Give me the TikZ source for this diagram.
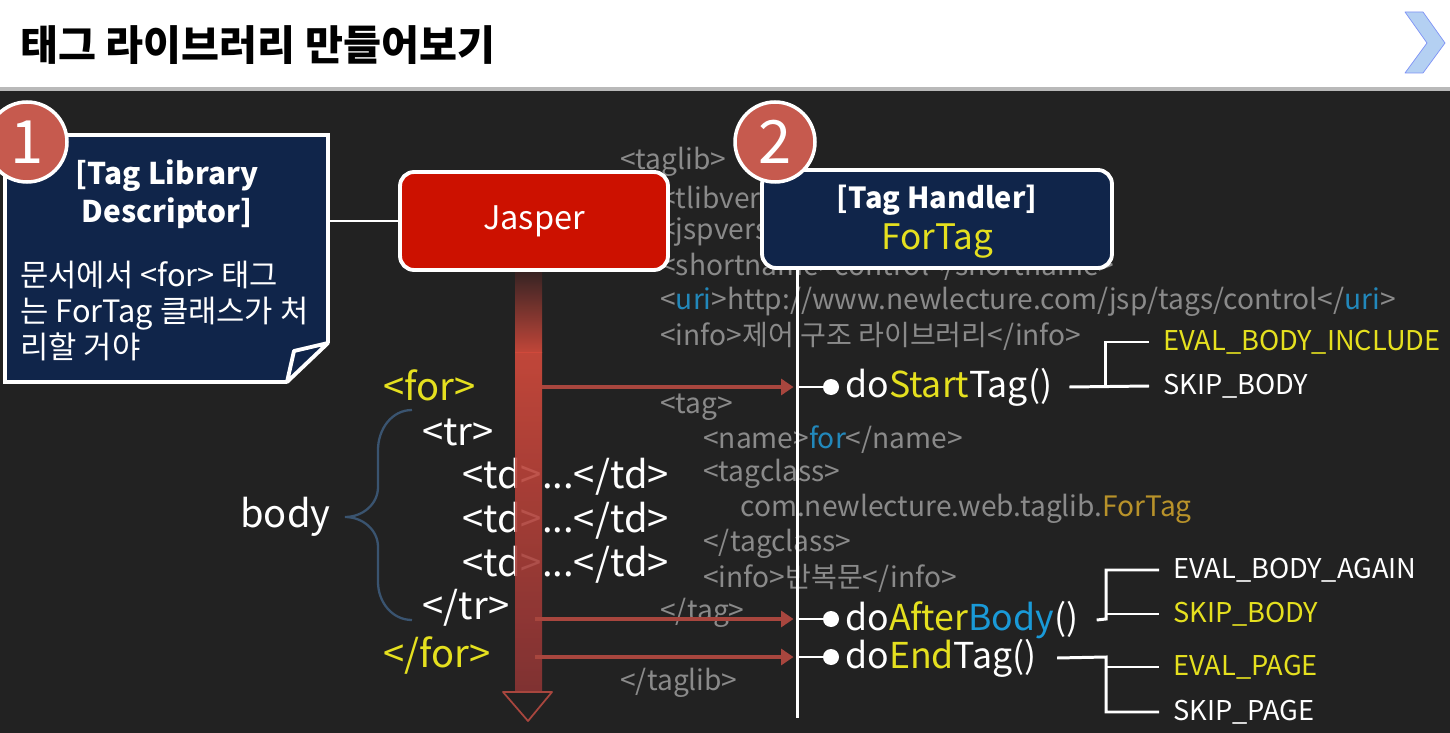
\documentclass[tikz,border=0pt]{standalone}
\usepackage{fontspec}
\setmainfont{Noto Sans CJK KR}
\usepackage{tikz}
\usepackage{xcolor}
\usetikzlibrary{arrows.meta, positioning, calc}
\definecolor{SlideDark}{HTML}{222222}
\definecolor{NoteNavy}{HTML}{10254A}
\definecolor{JasperRed}{HTML}{CC1100}
\definecolor{BadgeRed}{HTML}{C65A4E}
\definecolor{CodeYellow}{HTML}{E5E01F}
\definecolor{CodeBlue}{HTML}{1A9AD8}
\definecolor{TldGray}{HTML}{8A8A8A}
\definecolor{TldBlue}{HTML}{2288BB}
\definecolor{TldGold}{HTML}{B8922A}
\definecolor{CallRed}{HTML}{A8463E}
\definecolor{ShaftDark}{HTML}{3A2424}
\definecolor{ShaftRed}{HTML}{D24A3C}
\definecolor{ShaftLow}{HTML}{8A3434}
\definecolor{BraceBlue}{HTML}{3A5470}
\definecolor{ChevronBlue}{HTML}{B4D0F2}

\begin{document}
\begin{tikzpicture}[x=0.02cm, y=-0.02cm,
    code/.style={anchor=west, inner sep=0pt, text=white, font=\fontsize{21.7}{24}\selectfont},
    tldline/.style={anchor=west, inner sep=0pt, text=TldGray, font=\fontsize{16}{19}\selectfont},
    method/.style={anchor=west, inner sep=0pt, text=white, font=\fontsize{20.3}{24}\selectfont},
    result/.style={anchor=west, inner sep=0pt, font=\fontsize{15.5}{19}\selectfont},
    badge/.style={circle, fill=BadgeRed, draw=white, line width=2pt, text=white, minimum size=1.6cm, inner sep=0pt, font=\fontsize{34}{36}\selectfont},
    hook/.style={circle, fill=white, inner sep=0pt, minimum size=0.32cm},
    branch/.style={white, line width=1.7pt},
    callarrow/.style={CallRed, line width=2.3pt, -{Triangle[length=7pt, width=9pt]}},
  ]
  \useasboundingbox (0,0) rectangle (1450,733);

  % Slide background
  \fill[white] (0,0) rectangle (1450,90);
  \fill[gray!55] (0,87) rectangle (1450,91);
  \fill[SlideDark] (0,91) rectangle (1450,733);
  \node[anchor=west, inner sep=0pt, font=\bfseries\fontsize{23.5}{26}\selectfont] (title) at (20,45) {태그 라이브러리 만들어보기};
  \draw[fill=ChevronBlue, draw=ChevronBlue!70!blue, line join=round] (1405,12) -- (1423,12) -- (1445,43) -- (1423,73) -- (1405,73) -- (1427,43) -- cycle;

  % TLD source (behind the boxes)
  \node[tldline] (taglibOpen) at (620,162) {<taglib>};
  \node[tldline] (tlib) at (660,197) {<tlibversion>};
  \node[tldline] (jspver) at (660,232) {<jspversion>};
  \node[tldline] (short) at (660,267) {<shortname>control</shortname>};
  \node[tldline] (uri) at (660,302) {<\textcolor{TldBlue}{uri}>http://www.newlecture.com/jsp/tags/control</\textcolor{TldBlue}{uri}>};
  \node[tldline] (info) at (660,336) {<info>제어 구조 라이브러리</info>};
  \node[tldline] (tagOpen) at (660,407) {<tag>};
  \node[tldline] (name) at (703,440) {<name>\textcolor{TldBlue}{for}</name>};
  \node[tldline] (tagclass) at (703,474) {<tagclass>};
  \node[tldline] (className) at (740,509) {com.newlecture.web.taglib.\textcolor{TldGold}{ForTag}};
  \node[tldline] (tagclassEnd) at (703,544) {</tagclass>};
  \node[tldline] (infoLoop) at (703,578) {<info>반복문</info>};
  \node[tldline] (tagClose) at (660,613) {</tag>};
  \node[tldline] (taglibClose) at (620,683) {</taglib>};

  % JSP document
  \node[code, text=CodeYellow] (forOpen) at (383,385) {<for>};
  \node[code] (trOpen) at (422,432) {<tr>};
  \node[code] (tdA) at (462,477) {<td>...</td>};
  \node[code] (tdB) at (462,521) {<td>...</td>};
  \node[code] (tdC) at (462,565) {<td>...</td>};
  \node[code] (trClose) at (422,608) {</tr>};
  \node[code, text=CodeYellow] (forClose) at (383,655) {</for>};
  \node[code] (body) at (240,517) {body};
  \draw[BraceBlue, line width=1.3pt] (412,410) to[out=180, in=90] (378,450) -- (378,487)
    to[out=-90, in=0] (345,517) to[out=0, in=90] (378,547) -- (378,582) to[out=-90, in=180] (412,620);

  % Jasper flow
  \coordinate (shaftR) at (542,0);
  \shade[top color=ShaftDark, bottom color=ShaftRed, opacity=0.9] (515,272) rectangle (542,352);
  \shade[top color=ShaftRed, bottom color=ShaftLow, opacity=0.9] (515,352) rectangle (542,692);
  \draw[CallRed, line width=1pt, line join=round] (503,692) -- (552,692) -- (528,721) -- cycle;

  % Descriptor note
  \node[draw=white, line width=2.2pt, fill=NoteNavy, minimum width=6.46cm, minimum height=4.94cm] (tld) at (166.5,258.5) {};
  \fill[SlideDark] (328,343) -- (332,343) -- (332,386) -- (287,386) -- (287,382) -- cycle;
  \draw[white, line width=2.2pt, fill=NoteNavy, line join=round] (328,343) -- (294,351) -- (287,382) -- cycle;
  \node[align=center, text=white, font=\bfseries\fontsize{17}{21.5}\selectfont] (tldTitle) at (167,194) {[Tag Library\\Descriptor]};
  \node[anchor=north west, align=left, inner sep=0pt, text=white, font=\fontsize{17.5}{20.4}\selectfont] (tldNote) at (20,261) {문서에서 <for> 태그\\는 ForTag 클래스가 처\\리할 거야};
  \node[badge] (one) at (27,142) {1};

  % Jasper
  \node[draw=white, line width=2.2pt, fill=JasperRed, rounded corners=8pt, minimum width=5.36cm, minimum height=1.96cm, text=white, font=\fontsize{18.5}{20}\selectfont] (jasper) at (534,221) {Jasper};
  \draw[white, line width=1.7pt] (jasper.west -| tld.east) -- (jasper.west);

  % Tag handler
  \node[draw=white, line width=2.2pt, fill=NoteNavy, rounded corners=8pt, minimum width=7cm, minimum height=1.96cm] (handler) at (937,219) {};
  \node[text=white, inner sep=0pt, font=\bfseries\fontsize{16.5}{20}\selectfont] (handlerTitle) at (937,200) {[Tag Handler]};
  \node[text=CodeYellow, inner sep=0pt, font=\fontsize{20}{22}\selectfont] (handlerClass) at (937,241) {ForTag};
  \node[badge] (two) at (775,142) {2};

  % Callbacks
  \coordinate (lifeline) at (797,718);
  \node[hook] (startDot) at (831,387) {};
  \node[hook] (afterDot) at (831,619) {};
  \node[hook] (endDot) at (831,657) {};
  \node[method] (start) at (845,387) {do\textcolor{CodeYellow}{Start}Tag()};
  \node[method] (afterBody) at (845,620) {do\textcolor{CodeYellow}{After}\textcolor{CodeBlue}{Body}()};
  \node[method] (endTag) at (845,658) {do\textcolor{CodeYellow}{End}Tag()};

  \draw[callarrow] (shaftR |- startDot) -- ([xshift=-2pt]lifeline |- startDot);
  \draw[callarrow] ([xshift=-4pt]shaftR |- afterDot) -- ([xshift=-2pt]lifeline |- afterDot);
  \draw[callarrow] ([xshift=-4pt]shaftR |- endDot) -- ([xshift=-2pt]lifeline |- endDot);

  \draw[branch] (handler.south -| lifeline) -- (lifeline);
  \draw[branch] (lifeline |- startDot) -- (startDot);
  \draw[branch] (lifeline |- afterDot) -- (afterDot);
  \draw[branch] (lifeline |- endDot) -- (endDot);

  % Return values
  \node[result, text=CodeYellow] (evalInclude) at (1163,342) {EVAL\_BODY\_INCLUDE};
  \node[result, text=white] (skipBodyA) at (1163,386) {SKIP\_BODY};
  \node[result, text=white] (evalAgain) at (1173,570) {EVAL\_BODY\_AGAIN};
  \node[result, text=CodeYellow] (skipBodyB) at (1173,614) {SKIP\_BODY};
  \node[result, text=CodeYellow] (evalPage) at (1173,667) {EVAL\_PAGE};
  \node[result, text=white] (skipPage) at (1173,712) {SKIP\_PAGE};

  \coordinate (forkA) at (1105,386);
  \coordinate (forkB) at (1106,619);
  \coordinate (forkC) at (1106,657);
  \draw[branch] ($(start.east)+(17,0)$) -- ($(skipBodyA.west)+(-14,0)$);
  \draw[branch] (forkA) |- ($(evalInclude.west)+(-14,0)$);
  \draw[branch] ($(afterBody.east)+(18,0)$) -- (forkB) |- ($(evalAgain.west)+(-14,0)$);
  \draw[branch] (forkB |- skipBodyB) -- ($(skipBodyB.west)+(-14,0)$);
  \draw[branch] ($(endTag.east)+(20,0)$) -- (forkC) |- ($(skipPage.west)+(-14,0)$);
  \draw[branch] (forkC |- evalPage) -- ($(evalPage.west)+(-14,0)$);
\end{tikzpicture}
\end{document}
